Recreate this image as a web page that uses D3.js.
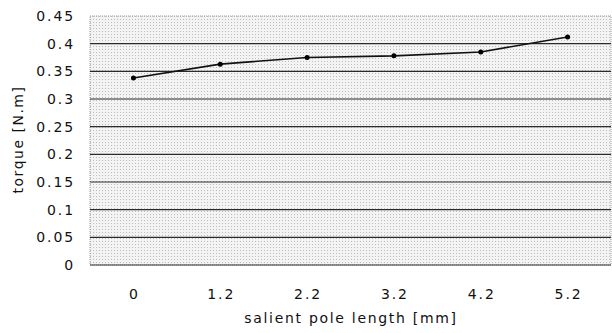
<!DOCTYPE html>
<html>
<head>
<meta charset="utf-8">
<script src="https://cdn.jsdelivr.net/npm/d3@7"></script>
<style>
  body { margin: 0; background: #fff; }
  text { font-family: "DejaVu Sans", sans-serif; fill: #111; }
</style>
</head>
<body>
<svg id="chart" width="612" height="333"></svg>
<script>
// chart data
const categories = ["0", "1.2", "2.2", "3.2", "4.2", "5.2"];
const torque = [0.338, 0.363, 0.375, 0.378, 0.385, 0.412];
const yTicks = [0, 0.05, 0.1, 0.15, 0.2, 0.25, 0.3, 0.35, 0.4, 0.45];

let margin = {top: 16, right: 1, bottom: 68, left: 90},
    width = 612 - margin.left - margin.right,
    height = 333 - margin.top - margin.bottom;

let svg = d3.select("#chart");

// halftone-ish background like the scan
let defs = svg.append("defs");
let pat = defs.append("pattern")
    .attr("id", "dots")
    .attr("width", 3).attr("height", 3)
    .attr("patternUnits", "userSpaceOnUse");
pat.append("rect").attr("width", 3).attr("height", 3).attr("fill", "#f3f3f3");
pat.append("rect").attr("width", 1).attr("height", 1).attr("fill", "#bdbdbd");

let g = svg.append("g")
    .attr("transform", "translate(" + margin.left + "," + margin.top + ")");

let xScale = d3.scaleBand()
    .domain(categories)
    .range([0, width]);

let yScale = d3.scaleLinear()
    .domain([0, 0.45])
    .range([height, 0]);

g.append("rect")
    .attr("width", width)
    .attr("height", height)
    .attr("fill", "url(#dots)")
    .attr("stroke", "#999")
    .attr("stroke-dasharray", "1,1");

// gridlines
g.selectAll(".grid")
    .data(yTicks.filter(d => d > 0 && d < 0.45))
    .enter().append("line")
    .attr("class", "grid")
    .attr("x1", 0).attr("x2", width)
    .attr("y1", d => yScale(d)).attr("y2", d => yScale(d))
    .attr("stroke", "#2a2a2a")
    .attr("stroke-width", 1.2);

// bottom axis line
g.append("line")
    .attr("x1", 0).attr("x2", width)
    .attr("y1", height).attr("y2", height)
    .attr("stroke", "#333")
    .attr("stroke-width", 1.2);

// y axis labels
let yAxis = g.append("g")
    .call(d3.axisLeft(yScale).tickValues(yTicks).tickSize(0).tickPadding(15)
        .tickFormat(d => d3.format("")(+d.toFixed(2))));
yAxis.select(".domain").remove();
yAxis.selectAll("text")
    .style("font-family", "DejaVu Sans")
    .style("font-size", "14px")
    .style("letter-spacing", "1.9px")
    .attr("fill", "#111");

// x axis labels
let xAxis = g.append("g")
    .attr("transform", "translate(0," + height + ")")
    .call(d3.axisBottom(xScale).tickSize(0).tickPadding(24));
xAxis.select(".domain").remove();
xAxis.selectAll("text")
    .style("font-family", "DejaVu Sans")
    .style("font-size", "14px")
    .style("letter-spacing", "1.9px")
    .attr("dx", "1px")
    .attr("fill", "#111");

// axis titles
svg.append("text")
    .attr("transform", "rotate(-90)")
    .attr("x", -(margin.top + height / 2) + 1)
    .attr("y", 23)
    .attr("text-anchor", "middle")
    .style("font-size", "14px")
    .style("letter-spacing", "1.5px")
    .text("torque [N.m]");

svg.append("text")
    .attr("x", 351)
    .attr("y", 323)
    .attr("text-anchor", "middle")
    .style("font-size", "14px")
    .style("letter-spacing", "1.7px")
    .text("salient pole length [mm]");

// line + points
let line = d3.line()
    .x((d, i) => xScale(categories[i]) + xScale.bandwidth() / 2)
    .y(d => yScale(d));

g.append("path")
    .datum(torque)
    .attr("d", line)
    .attr("fill", "none")
    .attr("stroke", "#111")
    .attr("stroke-width", 1.6);

g.selectAll(".pt")
    .data(torque)
    .enter().append("circle")
    .attr("class", "pt")
    .attr("cx", (d, i) => xScale(categories[i]) + xScale.bandwidth() / 2)
    .attr("cy", d => yScale(d))
    .attr("r", 2.5)
    .attr("fill", "#000");
</script>
</body>
</html>
